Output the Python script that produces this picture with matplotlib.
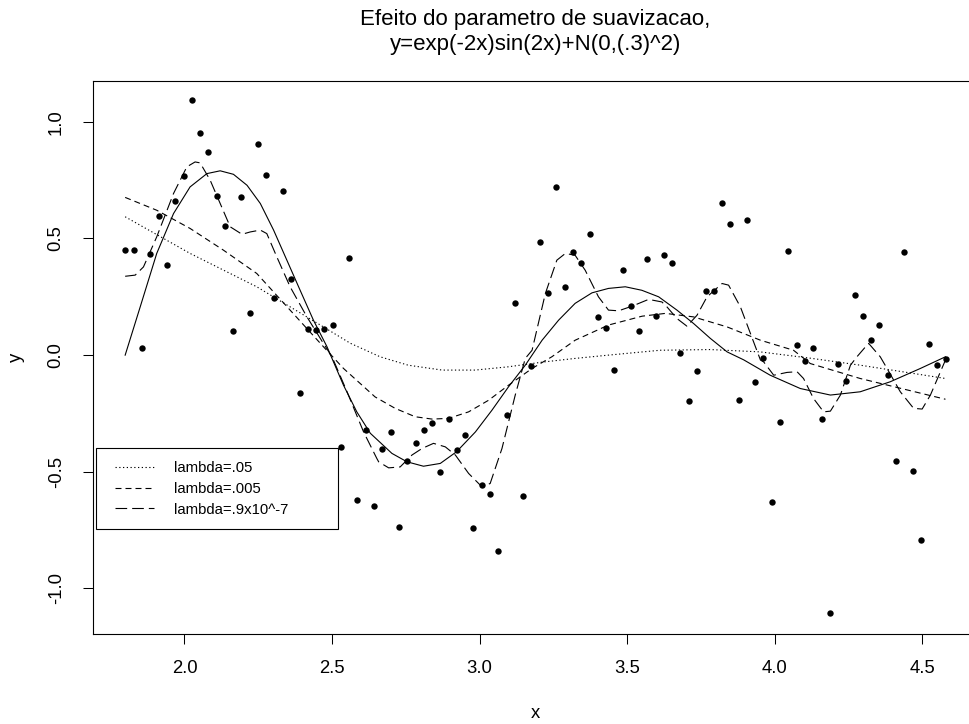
import matplotlib
matplotlib.use("Agg")
import matplotlib.pyplot as plt
from matplotlib.lines import Line2D
from matplotlib.legend_handler import HandlerLine2D

plt.rcParams['font.family'] = ['Liberation Sans', 'DejaVu Sans']
plt.rcParams['lines.scale_dashes'] = False

x_obs = [1.800, 1.828, 1.856, 1.884, 1.912, 1.940, 1.968, 1.997, 2.025, 2.053,
         2.081, 2.109, 2.137, 2.165, 2.193, 2.221, 2.249, 2.277, 2.305, 2.334,
         2.362, 2.390, 2.418, 2.446, 2.474, 2.502, 2.530, 2.558, 2.586, 2.614,
         2.642, 2.671, 2.699, 2.727, 2.755, 2.783, 2.811, 2.839, 2.867, 2.895,
         2.923, 2.951, 2.979, 3.007, 3.036, 3.064, 3.092, 3.120, 3.148, 3.176,
         3.204, 3.232, 3.260, 3.288, 3.316, 3.344, 3.373, 3.401, 3.429, 3.457,
         3.485, 3.513, 3.541, 3.569, 3.597, 3.625, 3.653, 3.681, 3.709, 3.738,
         3.766, 3.794, 3.822, 3.850, 3.878, 3.906, 3.934, 3.962, 3.990, 4.018,
         4.047, 4.075, 4.103, 4.131, 4.159, 4.187, 4.215, 4.243, 4.271, 4.299,
         4.327, 4.355, 4.383, 4.412, 4.440, 4.468, 4.496, 4.524, 4.552, 4.580]
y_obs = [0.450, 0.450, 0.031, 0.433, 0.596, 0.386, 0.660, 0.767, 1.093, 0.951,
         0.870, 0.684, 0.553, 0.104, 0.677, 0.181, 0.904, 0.771, 0.244, 0.703,
         0.326, -0.163, 0.111, 0.108, 0.111, 0.129, -0.394, 0.416, -0.621, -0.321,
         -0.647, -0.403, -0.330, -0.737, -0.454, -0.377, -0.321, -0.291, -0.501, -0.274,
         -0.407, -0.343, -0.741, -0.558, -0.596, -0.840, -0.257, 0.223, -0.604, -0.047,
         0.484, 0.267, 0.720, 0.291, 0.441, 0.394, 0.518, 0.163, 0.116, -0.064,
         0.364, 0.210, 0.103, 0.411, 0.167, 0.428, 0.394, 0.009, -0.197, -0.069,
         0.274, 0.274, 0.651, 0.561, -0.193, 0.578, -0.116, -0.013, -0.630, -0.287,
         0.446, 0.043, -0.026, 0.030, -0.274, -1.105, -0.039, -0.111, 0.257, 0.167,
         0.064, 0.129, -0.086, -0.454, 0.441, -0.497, -0.793, 0.047, -0.043, -0.017]

# solid curve
x_true = [1.799, 1.850, 1.906, 1.963, 2.019, 2.076, 2.121, 2.166, 2.212, 2.257,
          2.302, 2.347, 2.392, 2.437, 2.483, 2.539, 2.584, 2.630, 2.703, 2.754,
          2.810, 2.867, 2.922, 2.986, 3.042, 3.098, 3.155, 3.212, 3.268, 3.324,
          3.381, 3.437, 3.494, 3.550, 3.607, 3.669, 3.725, 3.782, 3.839, 3.895,
          3.985, 4.087, 4.189, 4.290, 4.392, 4.494, 4.579]
y_true = [0.000, 0.207, 0.436, 0.607, 0.721, 0.778, 0.790, 0.775, 0.728, 0.650,
          0.536, 0.407, 0.278, 0.150, 0.036, -0.129, -0.243, -0.335, -0.421, -0.457,
          -0.476, -0.464, -0.414, -0.329, -0.236, -0.136, -0.043, 0.064, 0.150, 0.222,
          0.267, 0.286, 0.293, 0.278, 0.250, 0.193, 0.136, 0.072, 0.014, -0.020,
          -0.086, -0.143, -0.171, -0.157, -0.114, -0.057, -0.007]

# lambda = .05
x_l1 = [1.799, 2.019, 2.245, 2.471, 2.562, 2.663, 2.758, 2.873, 2.985, 3.097,
        3.212, 3.324, 3.436, 3.612, 3.781, 3.951, 4.121, 4.290, 4.443, 4.579]
y_l1 = [0.593, 0.436, 0.293, 0.121, 0.051, -0.007, -0.043, -0.064, -0.064, -0.050,
        -0.030, -0.014, 0.000, 0.021, 0.024, 0.014, -0.013, -0.043, -0.073, -0.100]

# lambda = .005
x_l2 = [1.799, 1.906, 2.019, 2.132, 2.245, 2.358, 2.471, 2.539, 2.646, 2.714,
        2.782, 2.839, 2.895, 2.963, 3.031, 3.098, 3.178, 3.245, 3.324, 3.437,
        3.551, 3.630, 3.725, 3.839, 3.952, 4.064, 4.121, 4.290, 4.579]
y_l2 = [0.676, 0.621, 0.543, 0.450, 0.350, 0.193, 0.036, -0.057, -0.179, -0.228,
        -0.264, -0.274, -0.271, -0.243, -0.193, -0.129, -0.057, -0.007, 0.064, 0.129,
        0.167, 0.179, 0.164, 0.121, 0.064, 0.021, -0.036, -0.100, -0.189]

# lambda = .9x10^-7
x_l3 = [1.799, 1.833, 1.861, 1.906, 1.963, 2.008, 2.036, 2.053, 2.087, 2.121,
        2.155, 2.195, 2.223, 2.257, 2.279, 2.313, 2.358, 2.415, 2.471, 2.500,
        2.551, 2.607, 2.652, 2.658, 2.692, 2.731, 2.771, 2.805, 2.844, 2.884,
        2.918, 2.963, 3.008, 3.036, 3.076, 3.121, 3.155, 3.178, 3.223, 3.262,
        3.291, 3.324, 3.358, 3.403, 3.437, 3.471, 3.517, 3.573, 3.618, 3.635,
        3.669, 3.703, 3.737, 3.771, 3.822, 3.844, 3.884, 3.918, 3.952, 3.963,
        3.997, 4.042, 4.076, 4.098, 4.132, 4.166, 4.189, 4.223, 4.257, 4.279,
        4.313, 4.319, 4.358, 4.381, 4.426, 4.471, 4.500, 4.528, 4.562, 4.579]
y_l3 = [0.338, 0.343, 0.378, 0.507, 0.693, 0.807, 0.828, 0.824, 0.750, 0.650,
        0.550, 0.518, 0.528, 0.536, 0.521, 0.421, 0.293, 0.164, 0.050, -0.007,
        -0.157, -0.329, -0.443, -0.457, -0.483, -0.479, -0.428, -0.400, -0.378, -0.393,
        -0.428, -0.507, -0.564, -0.550, -0.400, -0.171, -0.014, 0.021, 0.264, 0.407,
        0.436, 0.428, 0.364, 0.250, 0.193, 0.190, 0.210, 0.239, 0.228, 0.207,
        0.157, 0.124, 0.171, 0.250, 0.307, 0.300, 0.207, 0.093, -0.021, -0.029,
        -0.086, -0.074, -0.071, -0.100, -0.186, -0.243, -0.240, -0.171, -0.043, -0.007,
        0.043, 0.050, -0.007, -0.057, -0.157, -0.228, -0.231, -0.171, -0.071, -0.021]

labels = ['lambda=.05', 'lambda=.005', 'lambda=.9x10^-7']
x_ticks = [2.0, 2.5, 3.0, 3.5, 4.0, 4.5]
y_ticks = [-1.0, -0.5, 0.0, 0.5, 1.0]

fig = plt.figure(figsize=(9.69, 7.24), dpi=100)
ax = fig.add_axes([0.09567, 0.12431, 0.91414, 0.76450])

lw = 0.8
ax.plot(x_obs, y_obs, 'o', color='black', ms=4.6, mew=0, zorder=3)
ax.plot(x_true, y_true, '-', color='black', lw=lw)
l1, = ax.plot(x_l1, y_l1, color='black', lw=lw, linestyle=(0, (0.9, 1.8)))
l2, = ax.plot(x_l2, y_l2, color='black', lw=lw, linestyle=(0, (4.3, 2.9)))
l3, = ax.plot(x_l3, y_l3, color='black', lw=lw, linestyle=(0, (8.4, 3.6)))

ax.set_xlim(1.689, 4.691)
ax.set_ylim(-1.195, 1.177)
ax.set_xticks(x_ticks)
ax.set_xticklabels([f'{v:.1f}' for v in x_ticks])
ax.set_yticks(y_ticks)
ax.set_yticklabels([f'{v:.1f}' for v in y_ticks], rotation=90, va='center')
ax.tick_params(direction='out', length=7.2, width=0.75, labelsize=13.3)
ax.tick_params(axis='x', pad=11.5)
ax.tick_params(axis='y', pad=13)
for s in ax.spines.values():
    s.set_linewidth(0.8)

ax.set_xlabel('x', fontsize=13.3)
ax.xaxis.set_label_coords(0.5, -0.1445)
ax.xaxis.label.set_va('center')
ax.set_ylabel('y', fontsize=13.3)
ax.yaxis.set_label_coords(-0.0866, 0.5)
ax.yaxis.label.set_va('center')

ax.set_title('Efeito do parametro de suavizacao,\ny=exp(-2x)sin(2x)+N(0,(.3)^2)',
             fontsize=16, pad=22, linespacing=1.25)

leg = ax.legend([l1, l2, l3], labels, loc='upper left',
                bbox_to_anchor=(0.0034, 0.3355 - 0.1427, 0.2739, 0.1427),
                mode='expand', borderaxespad=0, fontsize=10.7,
                borderpad=0.85, labelspacing=0.46, handlelength=3.04,
                handletextpad=1.35, fancybox=False, framealpha=1,
                edgecolor='black',
                handler_map={Line2D: HandlerLine2D(xpad=0.45)})
leg.get_frame().set_linewidth(0.8)
leg.set_zorder(5)

fig.savefig('out.png', dpi=100)
